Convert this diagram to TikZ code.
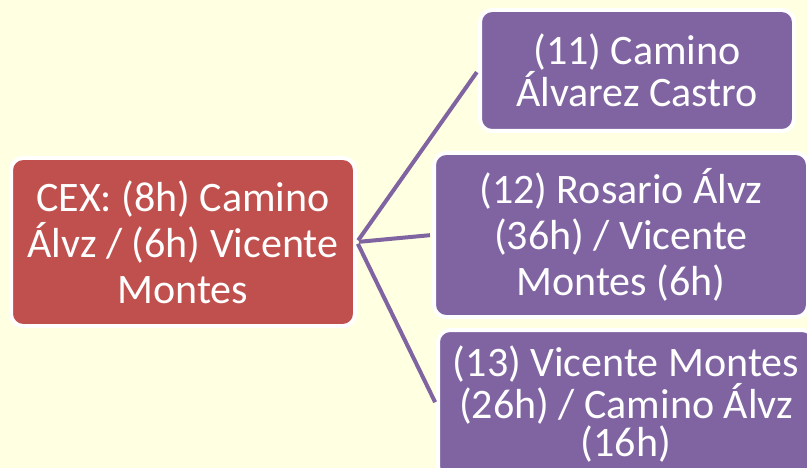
\documentclass[tikz,border=0pt]{standalone}
\usepackage{fontspec}
\setmainfont{Carlito}
\definecolor{fondo}{HTML}{FFFFE1}
\definecolor{rojo}{HTML}{C0504D}
\definecolor{morado}{HTML}{8064A2}
\tikzset{
  caja/.style={shape=rectangle,rounded corners=12pt,draw=white,line width=4pt,
    text=white,align=center,inner sep=0pt},
  raiz/.style={caja,fill=rojo,font=\fontsize{42}{46}\selectfont},
  hoja/.style={caja,fill=morado},
  rama/.style={draw=morado,line width=4pt,shorten <=2pt,shorten >=2pt}
}
\begin{document}
\begin{tikzpicture}[x=1pt,y=-1pt]
        \useasboundingbox (0,0) rectangle (807,468);
        \fill[fondo] (0,0) rectangle (807,468);
        \node[raiz,minimum width=344pt,minimum height=168pt] (CEX) at (183,242) {CEX: (8h) Camino\\Álvz / (6h) Vicente\\Montes};
        \node[hoja,minimum width=314pt,minimum height=121pt,font=\fontsize{42}{38}\selectfont] (H11) at (637,70.5) {(11) Camino\\Álvarez Castro};
        \node[hoja,minimum width=374pt,minimum height=164pt,font=\fontsize{42}{46}\selectfont] (H12) at (621,235) {(12) Rosario Álvz\\(36h) / Vicente\\Montes (6h)};
        \node[hoja,minimum width=376pt,minimum height=148pt,font=\fontsize{42}{38}\selectfont] (H13) at (626,404) {(13) Vicente Montes\\(26h) / Camino Álvz\\(16h)};
        \path[rama] (CEX.east) -- (H11.west);
        \path[rama] (CEX.east) -- (H12.west);
        \path[rama] (CEX.east) -- (H13.west);
    \end{tikzpicture}
\end{document}
